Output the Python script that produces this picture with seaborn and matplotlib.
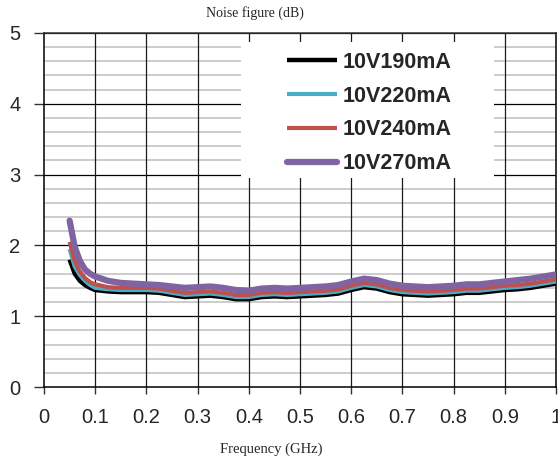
import matplotlib
matplotlib.use("Agg")
import matplotlib.pyplot as plt
from matplotlib.patches import Rectangle
import seaborn as sns

# Measured noise figure versus frequency for four bias points
freq_ghz = [0.05, 0.06, 0.07, 0.08, 0.09, 0.10, 0.125, 0.15, 0.175, 0.2,
            0.225, 0.25, 0.275, 0.3, 0.325, 0.35, 0.375, 0.4, 0.425, 0.45,
            0.475, 0.5, 0.525, 0.55, 0.575, 0.6, 0.625, 0.65, 0.675, 0.7,
            0.725, 0.75, 0.775, 0.8, 0.825, 0.85, 0.875, 0.9, 0.925, 0.95,
            0.975, 1.0]

nf_190ma = [1.80, 1.60, 1.50, 1.44, 1.40, 1.37, 1.35, 1.34, 1.34, 1.34,
            1.33, 1.30, 1.27, 1.28, 1.29, 1.27, 1.24, 1.24, 1.27, 1.28,
            1.27, 1.28, 1.29, 1.30, 1.32, 1.37, 1.41, 1.39, 1.34, 1.31,
            1.30, 1.29, 1.30, 1.31, 1.33, 1.33, 1.35, 1.37, 1.38, 1.40,
            1.43, 1.46]

nf_220ma = [1.95, 1.70, 1.58, 1.50, 1.44, 1.40, 1.38, 1.37, 1.37, 1.37,
            1.36, 1.33, 1.30, 1.31, 1.32, 1.30, 1.27, 1.27, 1.30, 1.31,
            1.30, 1.31, 1.32, 1.33, 1.35, 1.40, 1.44, 1.42, 1.37, 1.34,
            1.33, 1.32, 1.33, 1.34, 1.36, 1.36, 1.38, 1.40, 1.41, 1.43,
            1.46, 1.49]

nf_240ma = [2.05, 1.78, 1.63, 1.54, 1.48, 1.45, 1.41, 1.40, 1.40, 1.40,
            1.39, 1.36, 1.33, 1.34, 1.35, 1.33, 1.30, 1.30, 1.33, 1.34,
            1.33, 1.34, 1.35, 1.36, 1.38, 1.43, 1.47, 1.45, 1.40, 1.37,
            1.36, 1.35, 1.36, 1.37, 1.39, 1.39, 1.41, 1.43, 1.44, 1.46,
            1.49, 1.52]

nf_270ma = [2.35, 1.98, 1.78, 1.66, 1.60, 1.56, 1.50, 1.47, 1.46, 1.45,
            1.44, 1.42, 1.40, 1.41, 1.42, 1.40, 1.37, 1.36, 1.39, 1.40,
            1.39, 1.40, 1.41, 1.42, 1.44, 1.49, 1.53, 1.51, 1.46, 1.43,
            1.42, 1.41, 1.42, 1.43, 1.45, 1.45, 1.47, 1.49, 1.51, 1.53,
            1.56, 1.59]

series_labels = ["10V190mA", "10V220mA", "10V240mA", "10V270mA"]
series_values = [nf_190ma, nf_220ma, nf_240ma, nf_270ma]
series_colors = ["#000000", "#4BACC6", "#C0504D", "#8064A2"]
series_widths = [3.2, 3.0, 3.0, 4.5]

x_ticks = [0, 0.1, 0.2, 0.3, 0.4, 0.5, 0.6, 0.7, 0.8, 0.9, 1.0]
x_tick_labels = ["0", "0.1", "0.2", "0.3", "0.4", "0.5", "0.6", "0.7", "0.8", "0.9", "1"]
y_ticks = [0, 1, 2, 3, 4, 5]
y_minor = [0.2, 0.4, 0.6, 0.8, 1.2, 1.4, 1.6, 1.8, 2.2, 2.4, 2.6, 2.8,
           3.2, 3.4, 3.6, 3.8, 4.2, 4.4, 4.6, 4.8]

sns.set_style("white")
plt.rcParams["font.family"] = ["Liberation Sans", "DejaVu Sans"]

fig = plt.figure(figsize=(5.58, 4.61), dpi=100)
ax = fig.add_axes([44 / 558, 74 / 461, 512 / 558, 354 / 461])

for label, vals, col, lw in zip(series_labels, series_values, series_colors, series_widths):
    sns.lineplot(x=freq_ghz, y=vals, ax=ax, color=col, linewidth=lw,
                 label=label, zorder=3, solid_capstyle="round" if lw > 4 else "butt")

ax.set_xlim(0, 1)
ax.set_ylim(0, 5)

# grid: light minor lines every 0.2 dB, dark major lines
for yv in y_minor:
    ax.axhline(yv, color="#C4C4C4", lw=1.2, zorder=0.5)
for yv in y_ticks[1:]:
    ax.axhline(yv, color="#000000", lw=0.9, zorder=0.6)
for xv in x_ticks[1:-1]:
    ax.axvline(xv, color="#1A1A1A", lw=0.9, zorder=0.6)

ax.set_xticks(x_ticks)
ax.set_xticklabels(x_tick_labels)
ax.set_yticks(y_ticks)
ax.tick_params(axis="both", which="major", direction="out", labelsize=14.5,
               color="#333333", width=1.0)
ax.tick_params(axis="x", length=5, pad=10, bottom=True)
ax.tick_params(axis="y", length=7, pad=10, left=True)

for side in ["top", "right", "bottom", "left"]:
    ax.spines[side].set_visible(True)
    ax.spines[side].set_color("#000000")
    ax.spines[side].set_linewidth(1.1)
ax.spines["top"].set_color("#333333")

ax.set_xlabel("")
ax.set_ylabel("")

# legend panel with white backing over the grid
ax.add_patch(Rectangle((0.385, 0.589), 0.494, 0.386, transform=ax.transAxes,
                       facecolor="white", edgecolor="none", zorder=1))
leg = ax.legend(loc="center", bbox_to_anchor=(0.635, 0.774), frameon=False,
                prop={"family": "Liberation Sans", "weight": "bold", "size": 15.5},
                handlelength=2.33, handletextpad=0.28, labelspacing=0.6)
leg.set_zorder(4)

fig.text(255 / 558, 1 - 13 / 461, "Noise figure (dB)", ha="center", va="center",
         family="Liberation Serif", fontsize=10)
fig.text(271 / 558, 1 - 449 / 461, "Frequency (GHz)", ha="center", va="center",
         family="Liberation Serif", fontsize=10.5)

fig.savefig("out.png", dpi=100)
